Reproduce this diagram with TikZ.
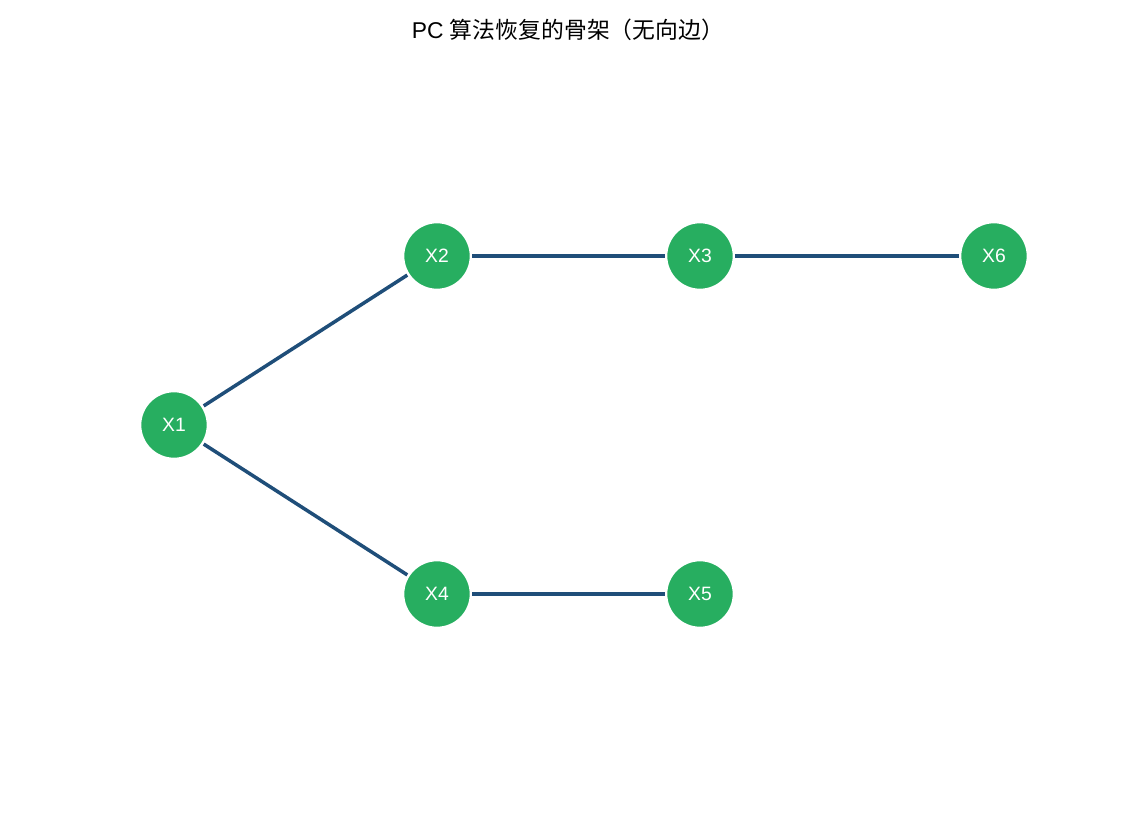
\documentclass[tikz,border=0pt]{standalone}
\usepackage{fontspec}
\setmainfont{Liberation Sans}
\newfontfamily\cjk{Noto Sans CJK SC}
\definecolor{nodegreen}{HTML}{27AE60}
\definecolor{edgeblue}{HTML}{1F4E79}
\begin{document}
\begin{tikzpicture}[x=0.02cm,y=-0.02cm]
    \tikzstyle{var}=[circle,fill=nodegreen,draw=white,line width=1.5pt,minimum size=1.36cm,inner sep=0pt,text=white,font=\fontsize{11}{13}\selectfont]
    \tikzstyle{skel}=[edgeblue,line width=2pt]
    \useasboundingbox (0,0) rectangle (1136,814);
    \node (title) at (568,30) {\fontsize{13}{15}\selectfont PC {\cjk 算法恢复的骨架（无向边）}};
    \node[var] (x1) at (174,425) {X1};
    \node[var] (x2) at (437,256) {X2};
    \node[var] (x3) at (700,256) {X3};
    \node[var] (x6) at (994,256) {X6};
    \node[var] (x4) at (437,594) {X4};
    \node[var] (x5) at (700,594) {X5};
    \draw[skel] (x1) -- (x2);
    \draw[skel] (x2) -- (x3);
    \draw[skel] (x3) -- (x6);
    \draw[skel] (x1) -- (x4);
    \draw[skel] (x4) -- (x5);

\end{tikzpicture}
\end{document}
